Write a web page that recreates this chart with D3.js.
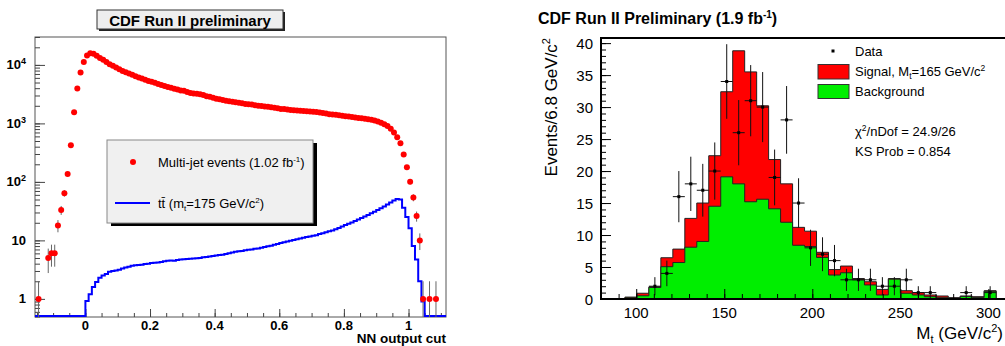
<!DOCTYPE html>
<html>
<head>
<meta charset="utf-8">
<script src="https://cdn.jsdelivr.net/npm/d3@7"></script>
<style>
  html, body { margin: 0; padding: 0; background: #fff; }
  svg { display: block; font-family: "Liberation Sans", Arial, Helvetica, sans-serif; }
</style>
</head>
<body>
<svg id="chart" width="1005" height="346"></svg>
<script>
// ---- left panel: NN output cut ----
const mjFirstCenter = -0.145;
const mjBinWidth = 0.01;
const multijetCounts = [
  1, 0, 0, 5, 6, 6, 18, 33, 64, 137,
  425, 1550, 3960, 7400, 11200, 14500, 15900, 15500, 14300, 13100,
  12200, 11200, 10300, 9700, 9000, 8400, 7900, 7500, 7100, 6800,
  6400, 6100, 5850, 5600, 5300, 5150, 4950, 4700, 4550, 4350,
  4200, 4050, 3900, 3800, 3650, 3600, 3450, 3300, 3250, 3200,
  3150, 3050, 2900, 2850, 2750, 2650, 2600, 2500, 2450, 2400,
  2350, 2300, 2250, 2200, 2150, 2130, 2100, 2050, 2000, 1980,
  1950, 1920, 1880, 1850, 1810, 1770, 1760, 1720, 1700, 1680,
  1660, 1640, 1630, 1610, 1600, 1580, 1570, 1540, 1500, 1470,
  1440, 1420, 1400, 1380, 1350, 1330, 1310, 1290, 1260, 1240,
  1220, 1200, 1180, 1150, 1120, 1080, 1030, 970, 900, 810,
  700, 580, 458, 295, 178, 101, 54, 26, 10, 1,
  0, 1, 0, 1
];
const ttFirstEdge = 0.0;
const ttBinWidth = 0.01;
const ttbarCounts = [
  0.92, 1.2, 1.6, 1.95, 2.3, 2.5, 2.65, 2.9, 3.0, 3.05,
  3.15, 3.3, 3.45, 3.55, 3.7, 3.75, 3.8, 3.85, 3.95, 4.0,
  4.1, 4.15, 4.2, 4.25, 4.4, 4.5, 4.55, 4.5, 4.6, 4.7,
  4.75, 4.8, 4.85, 4.9, 4.95, 5.0, 5.15, 5.2, 5.3, 5.4,
  5.5, 5.6, 5.7, 5.85, 6.0, 6.2, 6.4, 6.5, 6.6, 6.75,
  6.9, 7.0, 7.2, 7.3, 7.5, 7.7, 7.9, 8.1, 8.4, 8.7,
  9.0, 9.3, 9.6, 9.9, 10.2, 10.5, 10.8, 11.1, 11.4, 11.7,
  12.0, 12.3, 12.8, 13.3, 13.8, 14.3, 14.8, 15.5, 16.3, 17.2,
  18.3, 19.2, 20.3, 21.5, 22.8, 24.2, 25.5, 27.2, 29.0, 31.0,
  33.0, 35.6, 38.0, 41.0, 44.5, 48.0, 51.0, 50.0, 36.0, 25.0,
  16.2, 8.0, 4.7, 2.0, 0.9
];
const nnTicks = [0, 0.2, 0.4, 0.6, 0.8, 1];
const nnTickLabels = ['0', '0.2', '0.4', '0.6', '0.8', '1'];
const eventTicks = [1, 10, 100, 1000, 10000];
const eventTickLabels = [['1', ''], ['10', ''], ['10', '2'], ['10', '3'], ['10', '4']];

// ---- right panel: top mass ----
const massFirstEdge = 80;
const massBinWidth = 6.8;
const stackTotal = [
  0, 0, 0.3, 0.9, 1.9, 6.45, 7.8, 12.6, 15.0, 22.4,
  32.4, 38.8, 35.5, 30.2, 21.8, 18.0, 11.2, 10.6, 7.3, 4.6,
  5.15, 3.2, 2.7, 1.5, 3.2, 1.3, 1.0, 0.63, 0.47, 0.2,
  0.47, 0.36, 1.3
];
const background = [
  0, 0, 0.2, 0.5, 1.8, 5.05, 5.7, 8.1, 9.0, 14.5,
  19.1, 18.0, 15.2, 15.6, 14.1, 12.0, 8.4, 8.2, 6.5, 3.75,
  4.1, 3.0, 2.2, 0.63, 3.1, 0.9, 0.63, 0.36, 0.2, 0.15,
  0.4, 0.25, 1.2
];
const dataCounts = [
  0, 0, 0, 0, 2, 4, 16, 18, 17, 20,
  34, 26, 31, 30, 19, 28, 15, 8, 7, 6,
  3, 3, 3, 2, 2, 3, 1, 1, 0, 0,
  1, 0, 1
];
const massTicks = [100, 150, 200, 250, 300];
const massYTicks = [0, 5, 10, 15, 20, 25, 30, 35, 40];

const svg = d3.select('#chart');

// ================= left panel =================
const L = { left: 35, right: 446, top: 37, bottom: 317 };
const xL = d3.scaleLinear().domain([-0.156, 1.116]).range([L.left, L.right]);
const yL = d3.scaleLog().domain([0.49, 30000]).range([L.bottom, L.top]);

svg.append('clipPath').attr('id', 'clipL').append('rect')
  .attr('x', L.left).attr('y', L.top)
  .attr('width', L.right - L.left).attr('height', L.bottom - L.top);

// title box
svg.append('rect').attr('x', 99).attr('y', 12).attr('width', 186).attr('height', 19).attr('fill', '#222');
svg.append('rect').attr('x', 97).attr('y', 10).attr('width', 186).attr('height', 19)
  .attr('fill', '#eeeeee').attr('stroke', '#333').attr('stroke-width', 1);
svg.append('text').attr('x', 190).attr('y', 25.5).attr('text-anchor', 'middle')
  .attr('font-size', 15).attr('font-weight', 'bold').text('CDF Run II preliminary');

// frame
svg.append('rect').attr('x', L.left).attr('y', L.top)
  .attr('width', L.right - L.left).attr('height', L.bottom - L.top)
  .attr('fill', 'none').attr('stroke', '#555');

// ticks
function styleAxis(g, color) {
  g.select('.domain').remove();
  g.selectAll('line').attr('stroke', color);
}
svg.append('g').attr('transform', `translate(0,${L.bottom})`)
  .call(d3.axisBottom(xL).tickValues(d3.range(-0.15, 1.11, 0.05)).tickSize(-4).tickSizeOuter(0).tickFormat(''))
  .call(styleAxis, '#444');
svg.append('g').attr('transform', `translate(0,${L.bottom})`)
  .call(d3.axisBottom(xL).tickValues(nnTicks).tickSize(-8).tickSizeOuter(0).tickFormat(''))
  .call(styleAxis, '#444');
svg.append('g').attr('transform', `translate(${L.left},0)`)
  .call(d3.axisLeft(yL).tickValues(yL.ticks()).tickSize(-5).tickSizeOuter(0).tickFormat(''))
  .call(styleAxis, '#444');
svg.append('g').attr('transform', `translate(${L.left},0)`)
  .call(d3.axisLeft(yL).tickValues(eventTicks).tickSize(-10).tickSizeOuter(0).tickFormat(''))
  .call(styleAxis, '#444');

// tick labels
nnTicks.forEach((v, i) => {
  svg.append('text').attr('x', xL(v)).attr('y', 330)
    .attr('text-anchor', 'middle').attr('font-size', 13).attr('font-weight', 'bold')
    .text(nnTickLabels[i]);
});
eventTicks.forEach((v, i) => {
  const t = svg.append('text').attr('x', 26).attr('y', yL(v) + 4.5)
    .attr('text-anchor', 'end').attr('font-size', 13).attr('font-weight', 'bold');
  t.append('tspan').text(eventTickLabels[i][0]);
  if (eventTickLabels[i][1]) {
    t.append('tspan').attr('dy', -5).attr('font-size', 9).text(eventTickLabels[i][1]);
  }
});
svg.append('text').attr('x', L.right).attr('y', 343).attr('text-anchor', 'end')
  .attr('font-size', 13.5).attr('font-weight', 'bold').text('NN output cut');

// ttbar histogram
const plotL = svg.append('g').attr('clip-path', 'url(#clipL)');
const floorY = L.bottom - 1;
const ttPts = [[xL.domain()[0], 0]];
ttbarCounts.forEach((v, i) => ttPts.push([ttFirstEdge + i * ttBinWidth, v]));
ttPts.push([ttFirstEdge + ttbarCounts.length * ttBinWidth, 0]);
ttPts.push([xL.domain()[1], 0]);
plotL.append('path')
  .attr('d', d3.line().curve(d3.curveStepAfter)
    .x(d => xL(d[0]))
    .y(d => d[1] > yL.domain()[0] ? yL(d[1]) : floorY)(ttPts))
  .attr('fill', 'none').attr('stroke', '#0000ff').attr('stroke-width', 2);

// multi-jet points
const mj = multijetCounts.map((n, i) => ({ x: mjFirstCenter + i * mjBinWidth, n }))
  .filter(d => d.n > 0);
plotL.selectAll('.mjerr').data(mj).enter().append('line')
  .attr('x1', d => xL(d.x)).attr('x2', d => xL(d.x))
  .attr('y1', d => yL(d.n + Math.sqrt(d.n)))
  .attr('y2', d => (d.n - Math.sqrt(d.n)) > yL.domain()[0] ? yL(d.n - Math.sqrt(d.n)) : L.bottom)
  .attr('stroke', '#666').attr('stroke-width', 1);
plotL.selectAll('.mj').data(mj).enter().append('circle')
  .attr('cx', d => xL(d.x)).attr('cy', d => yL(d.n)).attr('r', 3)
  .attr('fill', '#ff0000');

// legend
svg.append('rect').attr('x', 111).attr('y', 143).attr('width', 206).attr('height', 83).attr('fill', '#000');
svg.append('rect').attr('x', 107).attr('y', 140).attr('width', 206).attr('height', 83)
  .attr('fill', '#f0f0f0').attr('stroke', '#888');
svg.append('circle').attr('cx', 133).attr('cy', 162).attr('r', 3).attr('fill', '#ff0000');
const lg1 = svg.append('text').attr('x', 158).attr('y', 167).attr('font-size', 13);
lg1.append('tspan').text('Multi-jet events (1.02 fb');
lg1.append('tspan').attr('dy', -5).attr('font-size', 8).text('-1');
lg1.append('tspan').attr('dy', 5).text(')');
svg.append('line').attr('x1', 115).attr('x2', 150).attr('y1', 203).attr('y2', 203)
  .attr('stroke', '#0000ff').attr('stroke-width', 2);
const lg2 = svg.append('text').attr('x', 158).attr('y', 208).attr('font-size', 13);
lg2.append('tspan').text('tt\u0304 (m');
lg2.append('tspan').attr('dy', 3).attr('font-size', 8).text('t');
lg2.append('tspan').attr('dy', -3).text('=175 GeV/c');
lg2.append('tspan').attr('dy', -5).attr('font-size', 8).text('2');
lg2.append('tspan').attr('dy', 5).text(')');

// ================= right panel =================
const R = { left: 601, right: 1005, top: 38, bottom: 299 };
const xR = d3.scaleLinear().domain([80, 310]).range([601, 1006]);
const yR = d3.scaleLinear().domain([0, 40.8]).range([R.bottom, R.top]);

svg.append('clipPath').attr('id', 'clipR').append('rect')
  .attr('x', R.left).attr('y', R.top)
  .attr('width', R.right - R.left).attr('height', R.bottom - R.top);

svg.append('text').attr('x', 538).attr('y', 24).attr('font-size', 16).attr('font-weight', 'bold')
  .call(t => {
    t.append('tspan').text('CDF Run II Preliminary (1.9 fb');
    t.append('tspan').attr('dy', -6).attr('font-size', 10).text('-1');
    t.append('tspan').attr('dy', 6).text(')');
  });

function histPts(values) {
  const pts = [[massFirstEdge, 0]];
  values.forEach((v, i) => pts.push([massFirstEdge + i * massBinWidth, v]));
  pts.push([massFirstEdge + values.length * massBinWidth, 0]);
  return pts;
}
const area = d3.area().curve(d3.curveStepAfter)
  .x(d => xR(d[0])).y0(yR(0)).y1(d => yR(d[1]));
const step = d3.line().curve(d3.curveStepAfter)
  .x(d => xR(d[0])).y(d => yR(d[1]));

const plotR = svg.append('g').attr('clip-path', 'url(#clipR)');
plotR.append('path').attr('d', area(histPts(stackTotal))).attr('fill', '#ff0000');
plotR.append('path').attr('d', step(histPts(stackTotal)))
  .attr('fill', 'none').attr('stroke', '#222').attr('stroke-width', 1);
plotR.append('path').attr('d', area(histPts(background))).attr('fill', '#00ee00');
plotR.append('path').attr('d', step(histPts(background)))
  .attr('fill', 'none').attr('stroke', '#222').attr('stroke-width', 1);

// data points
const pts = dataCounts.map((n, i) => ({
  lo: massFirstEdge + i * massBinWidth,
  hi: massFirstEdge + (i + 1) * massBinWidth,
  c: massFirstEdge + (i + 0.5) * massBinWidth,
  n
})).filter(d => d.n > 0);
plotR.selectAll('.ev').data(pts).enter().append('line')
  .attr('x1', d => xR(d.c)).attr('x2', d => xR(d.c))
  .attr('y1', d => yR(d.n + Math.sqrt(d.n))).attr('y2', d => yR(Math.max(0, d.n - Math.sqrt(d.n))))
  .attr('stroke', '#111').attr('stroke-width', 1);
plotR.selectAll('.eh').data(pts).enter().append('line')
  .attr('x1', d => xR(d.lo)).attr('x2', d => xR(d.hi))
  .attr('y1', d => yR(d.n)).attr('y2', d => yR(d.n))
  .attr('stroke', '#111').attr('stroke-width', 1);
plotR.selectAll('.dm').data(pts).enter().append('rect')
  .attr('x', d => xR(d.c) - 1.5).attr('y', d => yR(d.n) - 1.5)
  .attr('width', 3).attr('height', 3).attr('fill', '#000');

// axes
svg.append('g').attr('transform', `translate(0,${R.bottom})`)
  .call(d3.axisBottom(xR).tickValues(d3.range(80, 311, 10)).tickSize(-5).tickSizeOuter(0).tickFormat(''))
  .call(styleAxis, '#000');
svg.append('g').attr('transform', `translate(0,${R.bottom})`)
  .call(d3.axisBottom(xR).tickValues(massTicks).tickSize(-10).tickSizeOuter(0).tickFormat(''))
  .call(styleAxis, '#000');
svg.append('g').attr('transform', `translate(${R.left},0)`)
  .call(d3.axisLeft(yR).tickValues(d3.range(0, 41, 1)).tickSize(-5).tickSizeOuter(0).tickFormat(''))
  .call(styleAxis, '#000');
svg.append('g').attr('transform', `translate(${R.left},0)`)
  .call(d3.axisLeft(yR).tickValues(massYTicks).tickSize(-10).tickSizeOuter(0).tickFormat(''))
  .call(styleAxis, '#000');

svg.append('path')
  .attr('d', `M${R.right},${R.top}H${R.left}V${R.bottom}H${R.right}`)
  .attr('fill', 'none').attr('stroke', '#000').attr('stroke-width', 2);

massTicks.forEach(v => {
  svg.append('text').attr('x', xR(v)).attr('y', 318).attr('text-anchor', 'middle')
    .attr('font-size', 15).text(v);
});
massYTicks.forEach(v => {
  svg.append('text').attr('x', 593).attr('y', yR(v) + 5.5).attr('text-anchor', 'end')
    .attr('font-size', 15).text(v);
});

const xt = svg.append('text').attr('x', 1003).attr('y', 339).attr('text-anchor', 'end').attr('font-size', 17);
xt.append('tspan').text('M');
xt.append('tspan').attr('dy', 4).attr('font-size', 11).text('t');
xt.append('tspan').attr('dy', -4).text(' (GeV/c');
xt.append('tspan').attr('dy', -7).attr('font-size', 11).text('2');
xt.append('tspan').attr('dy', 7).text(')');

const yt = svg.append('text').attr('transform', 'translate(557,38) rotate(-90)')
  .attr('text-anchor', 'end').attr('font-size', 17);
yt.append('tspan').text('Events/6.8 GeV/c');
yt.append('tspan').attr('dy', -7).attr('font-size', 11).text('2');

// legend
svg.append('rect').attr('x', 831.5).attr('y', 49.5).attr('width', 3).attr('height', 3).attr('fill', '#000');
svg.append('text').attr('x', 855).attr('y', 55.5).attr('font-size', 13).text('Data');
svg.append('rect').attr('x', 818).attr('y', 64.5).attr('width', 31).attr('height', 14.5)
  .attr('fill', '#ff0000').attr('stroke', '#333');
const sg = svg.append('text').attr('x', 855).attr('y', 75.5).attr('font-size', 13);
sg.append('tspan').text('Signal, M');
sg.append('tspan').attr('dy', 3).attr('font-size', 8.5).text('t');
sg.append('tspan').attr('dy', -3).text('=165 GeV/c');
sg.append('tspan').attr('dy', -5).attr('font-size', 8.5).text('2');
svg.append('rect').attr('x', 818).attr('y', 84.5).attr('width', 31).attr('height', 14)
  .attr('fill', '#00ee00').attr('stroke', '#333');
svg.append('text').attr('x', 855).attr('y', 95.5).attr('font-size', 13).text('Background');
const chi = svg.append('text').attr('x', 855).attr('y', 136).attr('font-size', 13);
chi.append('tspan').text('\u03c7');
chi.append('tspan').attr('dy', -5).attr('font-size', 8.5).text('2');
chi.append('tspan').attr('dy', 5).text('/nDof = 24.9/26');
svg.append('text').attr('x', 855).attr('y', 155.5).attr('font-size', 13).text('KS Prob = 0.854');
</script>
</body>
</html>
